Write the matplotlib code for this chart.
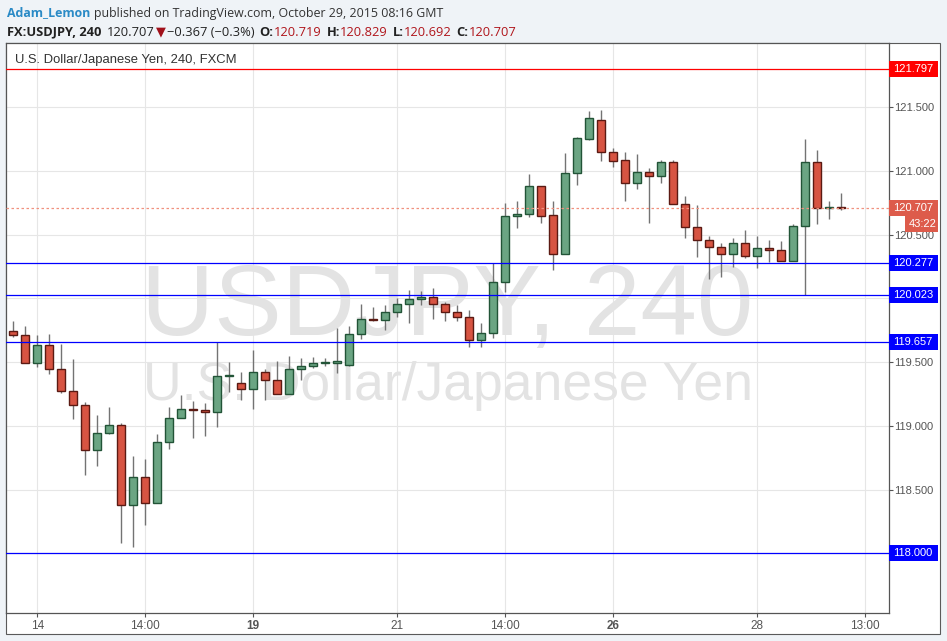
import matplotlib
matplotlib.use("Agg")
import matplotlib.pyplot as plt
import matplotlib.transforms as mtransforms
from matplotlib.patches import Rectangle
import numpy as np

# ---------------- data ----------------
opens = [119.741, 119.710, 119.490, 119.631, 119.443, 119.271, 119.161, 118.808, 118.941, 119.004,
         118.376, 118.596, 118.392, 118.871, 119.059, 119.130, 119.122, 119.106, 119.388, 119.333,
         119.286, 119.420, 119.357, 119.247, 119.443, 119.467, 119.490, 119.495, 119.480, 119.718,
         119.835, 119.827, 119.890, 119.953, 119.992, 120.008, 119.953, 119.890, 119.851, 119.671,
         119.725, 120.125, 120.643, 120.664, 120.878, 120.651, 120.350, 120.980, 121.252, 121.396,
         121.145, 121.082, 120.902, 120.988, 120.957, 121.067, 120.737, 120.557, 120.455, 120.405,
         120.345, 120.431, 120.329, 120.392, 120.376, 120.290, 120.565, 121.067, 120.705, 120.719]
highs = [119.822, 119.783, 119.712, 119.720, 119.642, 119.524, 119.187, 119.085, 119.147, 119.020,
         118.763, 118.740, 118.936, 119.145, 119.242, 119.195, 119.176, 119.655, 119.500, 119.422,
         119.595, 119.445, 119.508, 119.547, 119.532, 119.540, 119.532, 119.765, 119.783, 119.955,
         119.932, 119.947, 120.002, 120.065, 120.057, 120.078, 119.969, 119.945, 119.906, 119.804,
         120.277, 120.745, 120.763, 120.975, 120.878, 120.763, 121.140, 121.265, 121.469, 121.477,
         121.176, 121.145, 121.132, 121.020, 121.085, 121.085, 120.802, 120.732, 120.489, 120.431,
         120.473, 120.536, 120.489, 120.457, 120.449, 120.580, 121.247, 121.163, 120.763, 120.829]
lows = [119.699, 119.490, 119.464, 119.409, 119.260, 119.056, 118.617, 118.687, 118.933, 118.083,
        118.052, 118.224, 118.392, 118.820, 119.059, 118.902, 118.922, 118.988, 119.263, 119.202,
        119.129, 119.202, 119.247, 119.247, 119.362, 119.451, 119.467, 119.415, 119.470, 119.683,
        119.820, 119.751, 119.856, 119.804, 119.945, 119.835, 119.820, 119.824, 119.616, 119.620,
        119.691, 120.052, 120.554, 120.640, 120.593, 120.224, 120.350, 120.891, 121.242, 121.079,
        121.032, 120.765, 120.860, 120.593, 120.902, 120.737, 120.475, 120.326, 120.154, 120.169,
        120.248, 120.314, 120.240, 120.287, 120.290, 120.290, 120.024, 120.585, 120.624, 120.692]
closes = [119.710, 119.490, 119.631, 119.443, 119.271, 119.161, 118.808, 118.941, 119.004, 118.376,
          118.596, 118.392, 118.871, 119.059, 119.129, 119.122, 119.106, 119.388, 119.395, 119.286,
          119.420, 119.357, 119.247, 119.443, 119.467, 119.490, 119.495, 119.505, 119.718, 119.835,
          119.828, 119.890, 119.955, 119.992, 120.008, 119.953, 119.890, 119.853, 119.671, 119.725,
          120.125, 120.643, 120.664, 120.878, 120.648, 120.350, 120.980, 121.255, 121.412, 121.145,
          121.079, 120.902, 120.988, 120.957, 121.067, 120.737, 120.557, 120.455, 120.405, 120.345,
          120.431, 120.329, 120.392, 120.376, 120.290, 120.565, 121.067, 120.706, 120.712, 120.707]

tick_index = [2, 11, 20, 32, 41, 50, 62, 71]
tick_labels = ["14", "14:00", "19", "21", "14:00", "26", "28", "13:00"]
bold_labels = ["19", "26"]

price_ticks = [118.0, 118.5, 119.0, 119.5, 120.0, 120.5, 121.0, 121.5]
# tick labels hidden under the level boxes in the reference
price_tick_labels = ["", "118.500", "119.000", "119.500", "", "120.500", "121.000", "121.500"]
levels = [121.797, 120.277, 120.023, 119.657, 118.000]
level_colors = ["#ff0000", "#0000ff", "#0000ff", "#0000ff", "#0000ff"]
last_price = 120.707
countdown = "43:22"

# ---------------- figure ----------------
W, H = 947, 641
fig = plt.figure(figsize=(W / 100, H / 100), dpi=100, facecolor="#eff3f7")

def fx(px):
    return px / W

def fy(py):
    return 1 - py / H

# outer frame
fig.add_artist(Rectangle((fx(6), fy(634)), fx(940) - fx(6), fy(43) - fy(634),
                         transform=fig.transFigure, facecolor="white",
                         edgecolor="#5a5a5a", lw=0.8, zorder=-5))

ax_l, ax_r, ax_t, ax_b = 6.3, 888.7, 42.7, 612.7
ax = fig.add_axes([fx(ax_l), fy(ax_b), fx(ax_r) - fx(ax_l), fy(ax_t) - fy(ax_b)])
ax.set_facecolor("white")

x = np.arange(len(opens))
o = np.array(opens); c = np.array(closes); h = np.array(highs); l = np.array(lows)
up = c >= o

ax.vlines(x, l, h, color="#737373", lw=1.0, zorder=3)
bottoms = np.minimum(o, c)
heights = np.maximum(np.abs(c - o), 0.008)
ax.bar(x[up], heights[up], bottom=bottoms[up], width=0.66, color="#6ba583",
       edgecolor="#225437", lw=1.0, zorder=4)
ax.bar(x[~up], heights[~up], bottom=bottoms[~up], width=0.66, color="#d75442",
       edgecolor="#5b1a13", lw=1.0, zorder=4)

ymin, ymax = 117.534, 122.005
ax.set_ylim(ymin, ymax)
ax.set_xlim(-0.58, 72.95)

# grid
for p in price_ticks:
    ax.axhline(p, color="#e6e6e6", lw=0.8, zorder=0)
for t in tick_index:
    ax.axvline(t, color="#e6e6e6", lw=0.8, zorder=0)

# watermark
ax.text(0.5, 0.487, "USDJPY, 240", transform=ax.transAxes, ha="center", va="baseline",
        fontsize=73, color="#e3e3e3", family="Liberation Sans", zorder=1)
ax.text(0.5, 0.373, "U.S. Dollar/Japanese Yen", transform=ax.transAxes, ha="center",
        va="baseline", fontsize=38.5, color="#e3e3e3", family="Liberation Sans", zorder=1)

ax.text((15 - ax_l) / (ax_r - ax_l), 1 - (60 - ax_t) / (ax_b - ax_t),
        "U.S. Dollar/Japanese Yen, 240, FXCM", transform=ax.transAxes,
        ha="left", va="center", fontsize=9.4, color="#333333", family="Liberation Sans", zorder=6)

# levels
for lv, col in zip(levels, level_colors):
    ax.axhline(lv, color=col, lw=0.9, zorder=5)
ax.axhline(last_price, color="#f0917f", lw=0.9, ls=(0, (2, 2)), zorder=5)

# axes styling
for s in ["left", "bottom", "right", "top"]:
    ax.spines[s].set_color("#555555")
    ax.spines[s].set_linewidth(0.9)
ax.yaxis.tick_right()
ax.set_yticks(price_ticks)
ax.set_yticklabels(price_tick_labels)
ax.tick_params(axis="y", right=True, left=False, length=3, color="#555555",
               labelcolor="#555555", labelsize=8, pad=0.8)
ax.set_xticks(tick_index)
ax.set_xticklabels(tick_labels)
ax.tick_params(axis="x", length=3, color="#555555", labelcolor="#555555",
               labelsize=8.5, pad=2)
for lab in ax.get_xticklabels():
    lab.set_family(["Liberation Sans Narrow", "Liberation Sans"])
    if lab.get_text() in bold_labels:
        lab.set_fontweight("bold")
for lab in ax.get_yticklabels():
    lab.set_family("Liberation Sans")

# price label boxes on the right axis
ppu = (ax_b - ax_t) / (ymax - ymin)
axw = ax_r - ax_l
trans = mtransforms.blended_transform_factory(ax.transAxes, ax.transData)
box_h = 16 / ppu
box_w = 49.5 / axw

def price_box(p, col, text, x0=0.0, w=box_w, yoff=0.0):
    ax.add_patch(Rectangle((1.0 + x0, p - box_h / 2 + yoff), w, box_h, transform=trans,
                           facecolor=col, edgecolor="none", clip_on=False, zorder=10))
    ax.text(1.0 + x0 + 4 / axw, p + yoff, text, transform=trans, ha="left", va="center",
            color="white", fontsize=8, family="Liberation Sans", clip_on=False, zorder=11)

for lv, col in zip(levels, level_colors):
    price_box(lv, col, f"{lv:.3f}")
price_box(last_price, "#dd5b4b", f"{last_price:.3f}")
price_box(last_price, "#dd5b4b", countdown, x0=16 / axw, w=33.5 / axw, yoff=-16 / ppu)

# header
hax = fig.add_axes([0, 0, 1, 1], zorder=-10)
hax.axis("off")

def chain(y_px, pieces, size):
    prev = hax.text(fx(7), fy(y_px), pieces[0][0], transform=fig.transFigure, ha="left",
                    va="center", color=pieces[0][1], fontweight=pieces[0][2],
                    fontsize=size, family=["Open Sans", "DejaVu Sans"])
    for txt, col, wt, gap in pieces[1:]:
        prev = hax.annotate(txt, xy=(1, 0), xycoords=prev, xytext=(gap, 0),
                            textcoords="offset pixels", ha="left", va="bottom",
                            color=col, fontweight=wt, fontsize=size,
                            family=["Open Sans", "DejaVu Sans"])

chain(13, [("Adam_Lemon", "#2a8ac6", "bold", 0),
           ("published on TradingView.com, October 29, 2015 08:16 GMT", "#333333", "normal", 4)], 8.9)
red = "#b0151b"
chain(32, [("FX:USDJPY, 240", "#222222", "bold", 0),
           ("120.707", "#222222", "normal", 5),
           ("▼", "#a0101a", "normal", 2),
           ("−0.367 (−0.3%)", "#222222", "normal", 1),
           ("O:", "#222222", "bold", 5), ("120.719", red, "normal", 0),
           ("H:", "#222222", "bold", 5), ("120.829", red, "normal", 0),
           ("L:", "#222222", "bold", 5), ("120.692", red, "normal", 0),
           ("C:", "#222222", "bold", 5), ("120.707", red, "normal", 0)], 9.3)

fig.savefig("out.png", dpi=100, facecolor=fig.get_facecolor())
